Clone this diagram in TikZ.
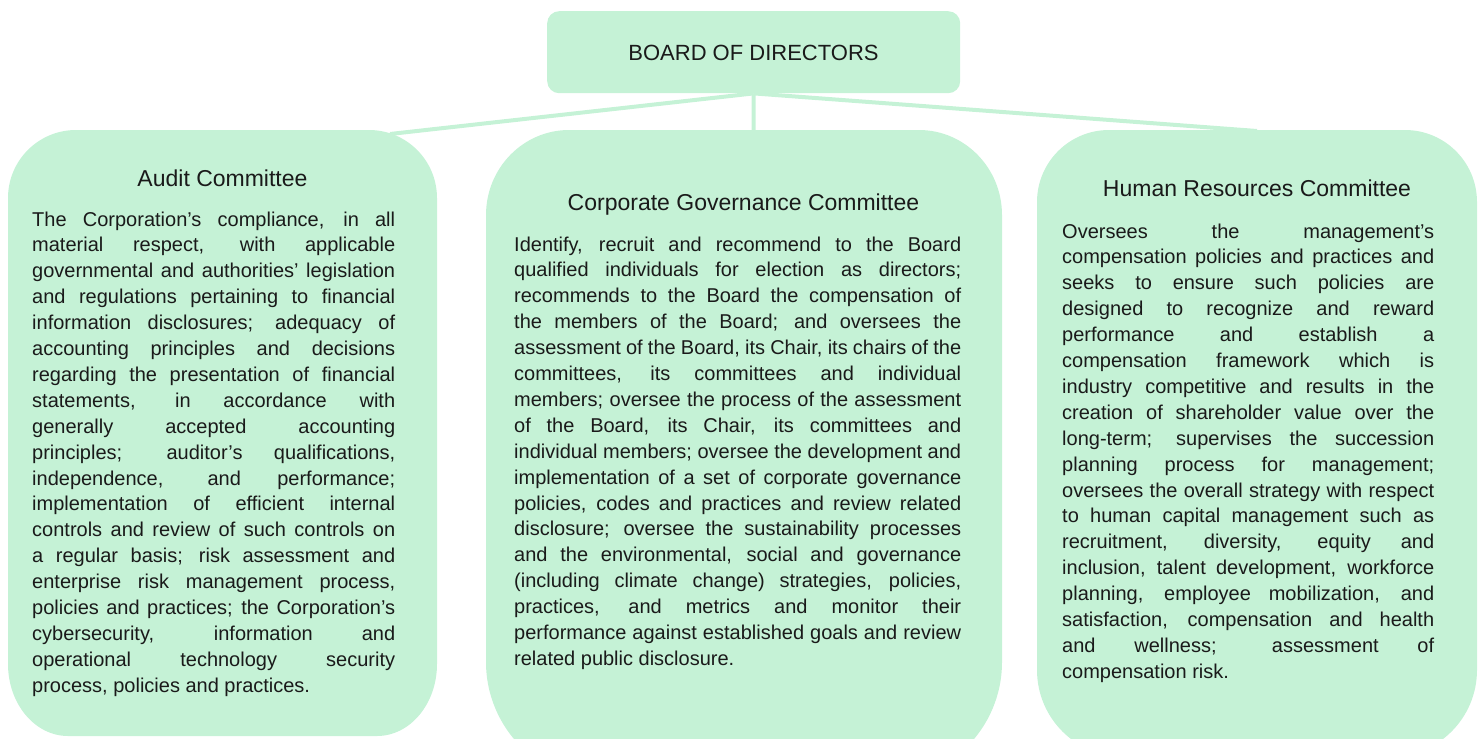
\documentclass[tikz,border=0pt]{standalone}
\usepackage{fontspec}
\setmainfont{Liberation Sans}
\usetikzlibrary{backgrounds}
\definecolor{boxg}{HTML}{C5F2D6}
\definecolor{lineg}{HTML}{C5F2D6}
\definecolor{txt}{HTML}{1A1A1A}
\tikzset{
  panel/.style={draw=none, fill=none, inner sep=0pt, anchor=north west},
  boardstyle/.style={fill=boxg, draw=none, inner sep=0pt, anchor=north west, rounded corners=12pt},
  head/.style={anchor=base, inner sep=0pt, text=txt, font=\fontsize{23}{28}\selectfont},
  body/.style={anchor=base west, inner sep=0pt, text=txt},
  link/.style={draw=lineg, line width=4pt},
}
\newcommand{\bodytext}[2]{\parbox[t]{#1}{\fontsize{20}{25.9}\selectfont\sloppy\parindent=0pt #2}}
% left, top, right, bottom, top rx, top ry, bottom rx, bottom ry
\newcommand{\panelshape}[8]{%
 \fill[boxg] (#1,{#2+#6}) .. controls (#1,{#2+0.4477*#6}) and ({#1+0.4477*#5},#2) .. ({#1+#5},#2)
 -- ({#3-#5},#2) .. controls ({#3-0.4477*#5},#2) and (#3,{#2+0.4477*#6}) .. (#3,{#2+#6})
 -- (#3,{#4-#8}) .. controls (#3,{#4-0.4477*#8}) and ({#3-0.4477*#7},#4) .. ({#3-#7},#4)
 -- ({#1+#7},#4) .. controls ({#1+0.4477*#7},#4) and (#1,{#4-0.4477*#8}) .. (#1,{#4-#8}) -- cycle;}
\begin{document}
\begin{tikzpicture}[x=1pt,y=-1pt]
\useasboundingbox (0,0) rectangle (1481,739);
\clip (0,0) rectangle (1481,739);
% board
\node[boardstyle, minimum width=413pt, minimum height=82pt] (boardbox) at (547,11) {};
\node[head, font=\fontsize{22}{26}\selectfont] (board) at (753.5,60) {BOARD OF DIRECTORS};
% panels
\panelshape{8}{130}{437}{736}{68}{68}{60}{72}
\panelshape{486}{130}{1002}{782}{83}{85}{120}{120}
\panelshape{1037}{130}{1477}{757}{72}{72}{87}{87}
\node[panel, minimum width=429pt, minimum height=606pt] (audit) at (8,130) {};
\node[panel, minimum width=516pt, minimum height=652pt] (corp) at (486,130) {};
\node[panel, minimum width=440pt, minimum height=627pt] (hr) at (1037,130) {};
% connectors
\coordinate (ta) at (390,134);
\coordinate (tc) at (753.5,131);
\coordinate (th) at (1257,131);
\begin{pgfonlayer}{background}
\draw[link] (boardbox.south) -- (ta);
\draw[link] (boardbox.south) -- (tc);
\draw[link] (boardbox.south) -- (th);
\end{pgfonlayer}
% headings
\node[head] (ah) at (222.5,186) {Audit Committee};
\node[head] (ch) at (743.5,210) {Corporate Governance Committee};
\node[head] (hh) at (1257,196) {Human Resources Committee};
% bodies
\node[body] (at) at (32,226) {\bodytext{363pt}{%
The Corporation’s compliance, in all\linebreak
material respect, with applicable\linebreak
governmental and authorities’ legislation\linebreak
and regulations pertaining to financial\linebreak
information disclosures; adequacy of\linebreak
accounting principles and decisions\linebreak
regarding the presentation of financial\linebreak
statements, in accordance with\linebreak
generally accepted accounting\linebreak
principles; auditor’s qualifications,\linebreak
independence, and performance;\linebreak
implementation of efficient internal\linebreak
controls and review of such controls on\linebreak
a regular basis; risk assessment and\linebreak
enterprise risk management process,\linebreak
policies and practices; the Corporation’s\linebreak
cybersecurity, information and\linebreak
operational technology security\linebreak
process, policies and practices.}};
\node[body] (ct) at (514,251) {\bodytext{447pt}{%
Identify, recruit and recommend to the Board\linebreak
qualified individuals for election as directors;\linebreak
recommends to the Board the compensation of\linebreak
the members of the Board; and oversees the\linebreak
assessment of the Board, its Chair, its chairs of the\linebreak
committees, its committees and individual\linebreak
members; oversee the process of the assessment\linebreak
of the Board, its Chair, its committees and\linebreak
individual members; oversee the development and\linebreak
implementation of a set of corporate governance\linebreak
policies, codes and practices and review related\linebreak
disclosure; oversee the sustainability processes\linebreak
and the environmental, social and governance\linebreak
(including climate change) strategies, policies,\linebreak
practices, and metrics and monitor their\linebreak
performance against established goals and review\linebreak
related public disclosure.}};
\node[body] (htx) at (1062,238) {\bodytext{372pt}{%
Oversees the management’s\linebreak
compensation policies and practices and\linebreak
seeks to ensure such policies are\linebreak
designed to recognize and reward\linebreak
performance and establish a\linebreak
compensation framework which is\linebreak
industry competitive and results in the\linebreak
creation of shareholder value over the\linebreak
long-term; supervises the succession\linebreak
planning process for management;\linebreak
oversees the overall strategy with respect\linebreak
to human capital management such as\linebreak
recruitment, diversity, equity and\linebreak
inclusion, talent development, workforce\linebreak
planning, employee mobilization, and\linebreak
satisfaction, compensation and health\linebreak
and wellness; assessment of\linebreak
compensation risk.}};
\end{tikzpicture}
\end{document}
